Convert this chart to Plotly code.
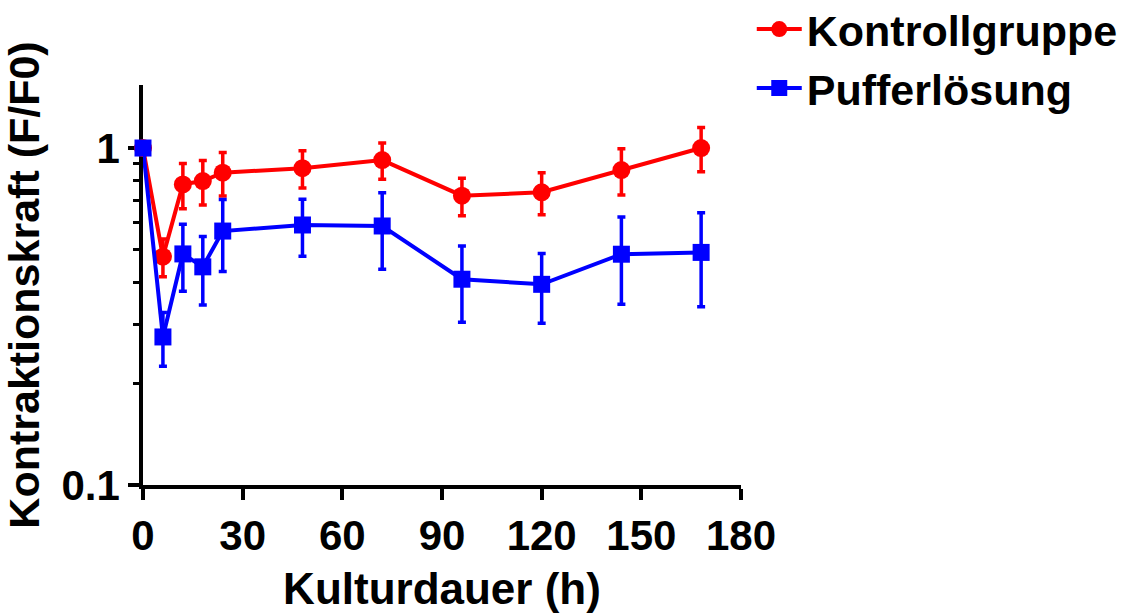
import plotly.graph_objects as go

# Culture time points (h)
hours = [0, 6, 12, 18, 24, 48, 72, 96, 120, 144, 168]

# Normalised contraction force F/F0 with SEM
kontroll = [1.0, 0.476, 0.780, 0.798, 0.845, 0.871, 0.921, 0.722, 0.739, 0.860, 1.0]
kontroll_err = [None, 0.061, 0.120, 0.120, 0.124, 0.110, 0.113, 0.092, 0.105, 0.135, 0.150]

puffer = [1.0, 0.275, 0.485, 0.444, 0.567, 0.591, 0.587, 0.408, 0.394, 0.484, 0.490]
puffer_err = [None, 0.050, 0.109, 0.102, 0.137, 0.114, 0.150, 0.104, 0.092, 0.140, 0.152]

x_ticks = [0, 30, 60, 90, 120, 150, 180]
y_ticks = [0.1, 1]
y_tick_text = ["0.1", "1"]
y_minor = [0.2, 0.3, 0.4, 0.5, 0.6, 0.7, 0.8, 0.9]

BOLD = "Liberation Sans"

fig = go.Figure()

fig.add_trace(go.Scatter(
    x=hours, y=kontroll, name="Kontrollgruppe", mode="lines+markers",
    line=dict(color="#FF0000", width=4),
    marker=dict(symbol="circle", size=18, color="#FF0000"),
    error_y=dict(type="data", array=kontroll_err, visible=True,
                 color="#FF0000", thickness=3.5, width=4),
    cliponaxis=False,
))

fig.add_trace(go.Scatter(
    x=hours, y=puffer, name="Pufferlösung", mode="lines+markers",
    line=dict(color="#0000FF", width=4),
    marker=dict(symbol="square", size=17, color="#0000FF"),
    error_y=dict(type="data", array=puffer_err, visible=True,
                 color="#0000FF", thickness=3.5, width=4),
    cliponaxis=False,
))

fig.update_layout(
    width=1137, height=613,
    margin=dict(l=143, r=396, t=85, b=128, autoexpand=False),
    paper_bgcolor="white", plot_bgcolor="white",
    showlegend=True,
    legend=dict(
        x=1.018, y=1.226, xanchor="left", yanchor="top",
        font=dict(family=BOLD, size=43, color="black", weight="bold"),
        itemwidth=45, bgcolor="rgba(0,0,0,0)", tracegroupgap=0,
    ),
)

fig.update_xaxes(
    range=[0, 180], tickvals=x_ticks,
    showgrid=False, zeroline=False, automargin=False,
    showline=True, linecolor="black", linewidth=3.5,
    ticks="outside", ticklen=11, tickwidth=3.5, tickcolor="black",
    tickfont=dict(family=BOLD, size=42, color="black", weight="bold"),
    title=dict(text="Kulturdauer (h)", standoff=28,
               font=dict(family=BOLD, size=44, color="black", weight="bold")),
    layer="below traces",
)

fig.update_yaxes(
    type="log", range=[-1, 0.187],
    tickvals=y_ticks, ticktext=y_tick_text,
    showgrid=False, zeroline=False, automargin=False,
    showline=True, linecolor="black", linewidth=3.5,
    ticks="outside", ticklen=11, tickwidth=3.5, tickcolor="black",
    tickfont=dict(family=BOLD, size=42, color="black", weight="bold"),
    minor=dict(tickvals=y_minor, ticks="outside", ticklen=6,
               tickwidth=3, tickcolor="black", showgrid=False),
    title=dict(text="Kontraktionskraft (F/F0)", standoff=12,
               font=dict(family=BOLD, size=43, color="black", weight="bold")),
    layer="below traces",
)

fig.write_html("out.html")
